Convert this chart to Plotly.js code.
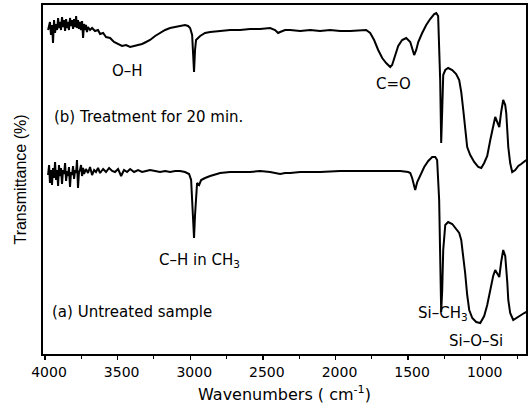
<!DOCTYPE html>
<html>
<head>
<meta charset="utf-8">
<script src="https://cdn.plot.ly/plotly-3.0.1.min.js"></script>
<style>html,body{margin:0;padding:0;background:#fff;}#chart{width:529px;height:407px;}</style>
</head>
<body>
<div id="chart"></div>
<script>
// Wavenumbers (cm^-1) and transmittance (arbitrary offset units)
const wnTreated = [3979,3966,3959,3952,3945,3938,3931,3924,3917,3910,3904,3897,3890,3883,3876,3869,3862,3855,3848,3842,3835,3828,3821,3814,3807,3800,3793,3786,3780,3773,3766,3759,3752,3745,3738,3731,3724,3718,3711,3704,3690,3676,3656,3635,3621,3600,3580,3552,3525,3497,3470,3442,3414,3387,3359,3332,3304,3277,3242,3208,3173,3139,3104,3070,3036,3015,3001,2987,2980,2974,2967,2960,2946,2932,2898,2863,2794,2726,2657,2588,2519,2450,2416,2395,2381,2347,2312,2243,2174,2106,2037,1968,1899,1830,1789,1761,1734,1706,1678,1651,1623,1610,1589,1568,1541,1513,1485,1472,1458,1444,1430,1403,1375,1348,1320,1306,1293,1279,1272,1265,1258,1244,1224,1196,1169,1148,1134,1120,1107,1093,1072,1045,1017,996,976,955,934,914,900,886,872,859,845,831,824,817,810,797,783,762,741,721,700,686];
const tTreated = [324,332,319,329,311,334,321,330,324,336,326,332,324,337,327,334,323,335,326,332,324,336,328,334,325,335,327,338,326,334,325,332,324,333,316,330,324,329,322,327,324,326,323,324,320,321,317,316,312,310,308,309,307,308,309,310,312,314,318,321,324,326,327,328,329,328,326,319,299,282,304,314,316,318,321,322,323,324,324,325,325,326,324,321,322,324,324,323,324,323,324,323,323,324,324,321,314,304,296,291,287,289,299,308,314,316,312,306,299,304,312,321,329,335,340,341,338,274,211,244,279,284,286,284,280,274,262,244,224,207,199,192,187,186,191,198,214,229,237,232,227,242,254,249,241,224,207,191,182,184,188,190,192,194];

const wnUntreated = [3979,3972,3966,3959,3952,3945,3938,3931,3924,3917,3910,3904,3897,3890,3883,3876,3869,3862,3855,3848,3842,3835,3828,3821,3814,3807,3800,3793,3786,3780,3773,3766,3759,3752,3745,3738,3731,3718,3704,3690,3676,3662,3649,3635,3621,3600,3580,3559,3538,3518,3497,3476,3456,3435,3414,3387,3359,3332,3304,3277,3242,3208,3173,3139,3104,3070,3036,3008,2994,2987,2980,2974,2967,2960,2953,2939,2925,2898,2863,2794,2726,2657,2588,2519,2450,2381,2347,2312,2243,2106,1968,1830,1692,1554,1499,1485,1472,1458,1451,1437,1417,1389,1361,1334,1313,1300,1286,1279,1272,1265,1258,1244,1224,1196,1169,1148,1134,1120,1107,1093,1079,1058,1031,1003,976,955,934,914,900,886,872,859,845,831,824,817,810,797,776,755,728,700,686];
const tUntreated = [179,189,171,184,169,186,176,192,174,184,168,189,178,186,170,184,180,191,173,183,178,187,167,182,179,188,175,184,181,194,166,182,184,189,178,186,180,185,181,187,179,184,182,186,181,185,182,186,183,182,185,178,184,182,185,182,184,182,183,184,183,182,183,182,183,183,182,180,174,154,129,116,139,164,171,169,174,176,178,181,182,182,182,183,182,180,181,181,182,182,183,183,183,183,182,181,176,166,164,172,178,187,193,197,197,194,154,94,42,64,104,129,132,130,125,121,114,99,81,59,44,36,32,31,38,49,64,78,84,80,77,92,104,98,87,72,54,41,34,36,39,41,42];

const xTickVals = [4000,3500,3000,2500,2000,1500,1000];
const xTickText = ["4000","3500","3000","2500","2000","1500","1000"];

const labelText = ["O\u2013H","C=O","(b) Treatment for 20 min.","C\u2013H in CH<sub>3</sub>","(a) Untreated sample","Si\u2013CH<sub>3</sub>","Si\u2013O\u2013Si"];
const labelX = [3435,1603,3952,2939,3966,1072,1031];
const labelY = [283,270,237,94,42,41,13];
const labelAnchor = ["center","center","left","center","left","right","center"];

const lineStyle = {color:"#000", width:2};
const traces = [
  {x: wnTreated, y: tTreated, type:"scatter", mode:"lines", line: lineStyle, name:"(b) Treatment for 20 min.", hoverinfo:"x+y"},
  {x: wnUntreated, y: tUntreated, type:"scatter", mode:"lines", line: lineStyle, name:"(a) Untreated sample", hoverinfo:"x+y"}
];

const annotations = labelText.map((t,i)=>({
  x: labelX[i], y: labelY[i], xref:"x", yref:"y", text: t, showarrow:false,
  xanchor: labelAnchor[i], yanchor:"middle",
  font:{family:"DejaVu Sans", size:15, color:"#000"}
}));

const layout = {
  width:529, height:407,
  margin:{l:43, r:3, t:5, b:53},
  paper_bgcolor:"#fff", plot_bgcolor:"#fff",
  showlegend:false,
  font:{family:"DejaVu Sans", size:14, color:"#000"},
  xaxis:{
    range:[4014, 688],
    tickvals: xTickVals, ticktext: xTickText,
    ticks:"outside", ticklen:4, tickwidth:1.5, tickcolor:"#000",
    minor:{dtick:250, ticks:"outside", ticklen:3, tickwidth:1, tickcolor:"#000"},
    showgrid:false, zeroline:false,
    showline:true, linecolor:"#000", linewidth:2, mirror:true,
    ticklabelshift:-4,
    tickfont:{family:"DejaVu Sans", size:14, color:"#000"},
    title:{text:"Wavenumbers ( cm<sup>-1</sup>)", standoff:10, font:{family:"DejaVu Sans", size:16, color:"#000"}}
  },
  yaxis:{
    range:[0, 349],
    showticklabels:false, ticks:"",
    showgrid:false, zeroline:false,
    showline:true, linecolor:"#000", linewidth:2, mirror:true,
    title:{text:"Transmittance (%)", standoff:10, font:{family:"Liberation Sans", size:16, color:"#000"}}
  },
  annotations: annotations
};

Plotly.newPlot("chart", traces, layout, {displayModeBar:false, staticPlot:true});
</script>
</body>
</html>
